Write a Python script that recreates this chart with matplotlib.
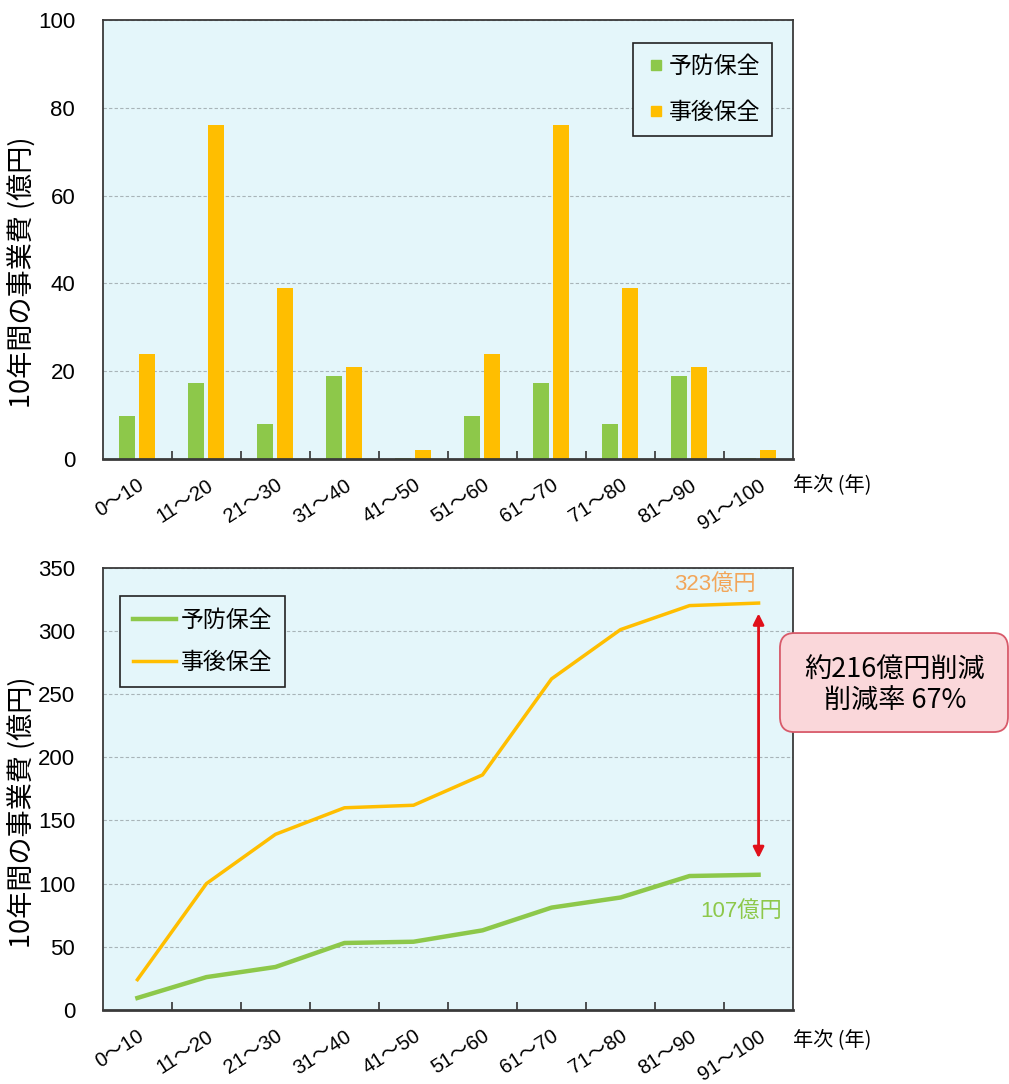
import numpy as np
import matplotlib.pyplot as plt
from matplotlib.patches import FancyBboxPatch
from matplotlib.lines import Line2D

plt.rcParams['font.family'] = ['Noto Sans CJK JP', 'DejaVu Sans']

# data
periods = ['0～10', '11～20', '21～30', '31～40', '41～50',
           '51～60', '61～70', '71～80', '81～90', '91～100']
yobou = [9.7, 17.3, 8.0, 18.9, 0.3, 9.7, 17.3, 8.0, 18.9, 0.3]
jigo = [24, 76, 39, 21, 2, 24, 76, 39, 21, 2]
yobou_cum = [9.5, 26, 34, 53, 54, 63, 81, 89, 106, 107]
jigo_cum = [24, 100, 139, 160, 162, 186, 262, 301, 320, 322]
names = ['予防保全', '事後保全']

green = '#8DC84A'
orange = '#FFBE00'
bg = '#E4F6FA'
ylab = '10年間の事業費 (億円)'
numfont = ['Liberation Sans', 'Noto Sans CJK JP']

fig = plt.figure(figsize=(10.09, 10.84), dpi=100)
ax1 = fig.add_axes([0.102, 0.5766, 0.684, 0.405])
ax2 = fig.add_axes([0.102, 0.0683, 0.684, 0.408])

x = np.arange(len(periods))

def style(ax, ymax, step, ylab_y, unit_y):
    ax.set_facecolor(bg)
    ax.set_xlim(-0.5, len(periods) - 0.5)
    ax.set_ylim(0, ymax)
    ax.set_yticks(np.arange(0, ymax + 1, step))
    ax.yaxis.grid(True, linestyle=(0, (3, 2)), color='#A8B4B8', linewidth=0.8)
    ax.set_axisbelow(True)
    ax.set_xticks(x)
    ax.set_xticklabels(periods, rotation=33, ha='right', rotation_mode='anchor', fontsize=14.5,
                       family=numfont)
    ax.tick_params(axis='x', length=0, pad=12)
    ax.set_xticks(np.arange(0.5, len(periods) - 0.5), minor=True)
    ax.tick_params(axis='x', which='minor', direction='in', length=6, width=1.2, color='#333333')
    ax.tick_params(axis='y', length=0, pad=20, labelsize=16)
    for lbl in ax.get_yticklabels():
        lbl.set_family(numfont)
    for s in ax.spines.values():
        s.set_color('#3A3A3A')
        s.set_linewidth(1.3)
    ax.spines['bottom'].set_linewidth(2)
    ax.set_ylabel(ylab, fontsize=19.5, va='center')
    ax.yaxis.set_label_coords(-0.118, ylab_y)
    ax.text(1.0, unit_y, '年次 (年)', transform=ax.transAxes, fontsize=14.5, va='center', ha='left')

# top: bars
style(ax1, 100, 20, 0.426, -0.058)
w = 0.23
ax1.bar(x - 0.15, yobou, w, color=green, label=names[0])
ax1.bar(x + 0.14, jigo, w, color=orange, label=names[1])
sq = [Line2D([], [], marker='s', linestyle='none', markersize=7.5, color=c) for c in (green, orange)]
leg1 = ax1.legend(sq, names, loc='upper right', bbox_to_anchor=(0.9696, 0.9476), fontsize=16.5,
                  fancybox=False, edgecolor='#222222', framealpha=1, facecolor=bg,
                  handlelength=1.0, handletextpad=0.05, borderpad=0.52, labelspacing=1.0,
                  borderaxespad=0)
leg1.get_frame().set_linewidth(1.2)

# bottom: cumulative lines
style(ax2, 350, 50, 0.446, -0.068)
ax2.plot(x, yobou_cum, color=green, linewidth=3.2, label=names[0])
ax2.plot(x, jigo_cum, color=orange, linewidth=2.5, label=names[1])
leg2 = ax2.legend(loc='upper left', bbox_to_anchor=(0.025, 0.936), fontsize=16.5, fancybox=False,
                  edgecolor='#222222', framealpha=1, facecolor=bg, handlelength=1.9,
                  handletextpad=0.2, borderpad=0.55, labelspacing=0.85, borderaxespad=0)
leg2.get_frame().set_linewidth(1.2)

ax2.text(8.37, 328.5, '323億円', color='#F2A65A', fontsize=16, ha='center', va='bottom', family=numfont)
ax2.text(8.75, 70, '107億円', color=green, fontsize=16, ha='center', va='bottom', family=numfont)
ax2.annotate('', xy=(9, 316), xytext=(9, 118),
             arrowprops=dict(arrowstyle='<|-|>', color='#E0101A', lw=2, mutation_scale=16))

box = FancyBboxPatch((0.773, 0.3247), 0.226, 0.0913, transform=fig.transFigure,
                     boxstyle='round,pad=0,rounding_size=0.014', facecolor='#FAD7DA',
                     edgecolor='#D85A6A', linewidth=1.3)
fig.patches.append(box)
fig.text(0.887, 0.3685, '約216億円削減\n削減率 67%', ha='center', va='center', fontsize=19.5,
         linespacing=1.2)

fig.savefig('out.png', dpi=100)
